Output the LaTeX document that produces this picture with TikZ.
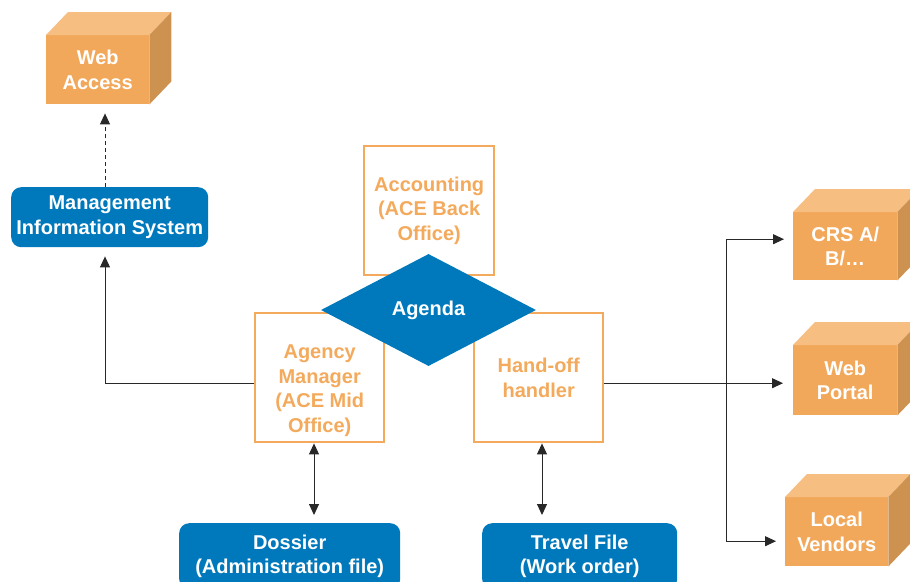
\documentclass[tikz,border=0pt]{standalone}
\usepackage{fontspec}
\setmainfont{Liberation Sans}
\usetikzlibrary{shapes.geometric,arrows.meta}
\definecolor{cubefront}{RGB}{242,168,90}
\definecolor{cubetop}{RGB}{247,190,130}
\definecolor{cubeside}{RGB}{206,146,80}
\definecolor{myblue}{RGB}{0,121,188}
\definecolor{myorange}{RGB}{244,170,92}
\definecolor{linegray}{RGB}{40,40,40}
\newcommand{\cubebody}[1]{%
  \fill[cubetop] (#1.north west) -- ++(22,-23) -- ([shift={(22,-23)}]#1.north east) -- (#1.north east) -- cycle;
  \fill[cubeside] (#1.north east) -- ++(22,-23) -- ([shift={(22,-23)}]#1.south east) -- (#1.south east) -- cycle;
}
\begin{document}
\begin{tikzpicture}[x=1pt,y=-1pt,
  txt/.style={font=\bfseries\fontsize{20}{24.5}\selectfont,align=center},
  cubeface/.style={txt,fill=cubefront,text=white,inner sep=0pt,anchor=north west},
  bluebox/.style={txt,fill=myblue,text=white,rounded corners=10pt,inner sep=0pt,anchor=north west},
  orangebox/.style={draw=myorange,line width=2.4pt,fill=white,inner sep=0pt,anchor=north west},
  orangetext/.style={txt,text=myorange,inner sep=0pt},
  arr/.style={draw=linegray,line width=1pt,-{Triangle[width=10pt,length=11pt]}},
  arrboth/.style={draw=linegray,line width=1pt,{Triangle[width=10pt,length=11pt]}-{Triangle[width=10pt,length=11pt]}}
]
\useasboundingbox (0,0) rectangle (910,581);

% cubes
\node[cubeface,minimum width=103pt,minimum height=69pt] (wa) at (46,35) {Web\\Access};
\cubebody{wa}
\node[cubeface,minimum width=104pt,minimum height=68pt] (crs) at (793,212) {CRS A/\\B/…};
\cubebody{crs}
\node[cubeface,minimum width=104pt,minimum height=70pt] (wp) at (793,345) {Web\\Portal};
\cubebody{wp}
\node[cubeface,minimum width=103pt,minimum height=69pt] (lv) at (785,497) {Local\\Vendors};
\cubebody{lv}

% blue boxes
\node[bluebox,minimum width=197pt,minimum height=60pt] (mis) at (11,187) {Management\\Information System};
\node[bluebox,minimum width=221pt,minimum height=66pt] (dos) at (179,523) {Dossier\\(Administration file)};
\node[bluebox,minimum width=195pt,minimum height=66pt] (tf) at (482,523) {Travel File\\(Work order)};

% orange boxes
\node[orangebox,minimum width=130pt,minimum height=129pt] (acc) at (363,145) {};
\node[orangetext] (acct) at (acc.center) {Accounting\\(ACE Back\\Office)};
\node[orangebox,minimum width=129pt,minimum height=129pt] (am) at (254,312) {};
\node[orangetext] (amt) at ([yshift=-13pt]am.center) {Agency\\Manager\\(ACE Mid\\Office)};
\node[orangebox,minimum width=129pt,minimum height=129pt] (ho) at (473,312) {};
\node[orangetext] (hot) at (ho.center) {Hand-off\\handler};

% diamond
\node[diamond,fill=myblue,text=white,txt,inner sep=0pt,minimum width=215pt,minimum height=112pt] (ag) at (428.5,310) {Agenda};

% connectors
\coordinate (cl) at (105,0);
\coordinate (j) at (726,382);
\draw[arr,dashed,dash pattern=on 4pt off 3pt,shorten >=9pt] (mis.north -| cl) -- (wa.south -| cl);
\draw[arr,shorten >=9pt] ([yshift=-5.5pt]am.west) -| (mis.south -| cl);
\draw[arr,shorten >=10pt] ([yshift=-5.5pt]ho.east) -- ([yshift=-5.5pt]ho.east -| wp.west);
\draw[arr,shorten >=9pt] (j) |- ([yshift=7pt]crs.west);
\draw[arr,shorten >=9pt] (j) |- ([yshift=-9.5pt]lv.west);
\coordinate (c1) at (314,0);
\coordinate (c2) at (542,0);
\draw[arrboth,shorten >=8pt] (am.south -| c1) -- (dos.north -| c1);
\draw[arrboth,shorten >=8pt] (ho.south -| c2) -- (tf.north -| c2);
\end{tikzpicture}
\end{document}
